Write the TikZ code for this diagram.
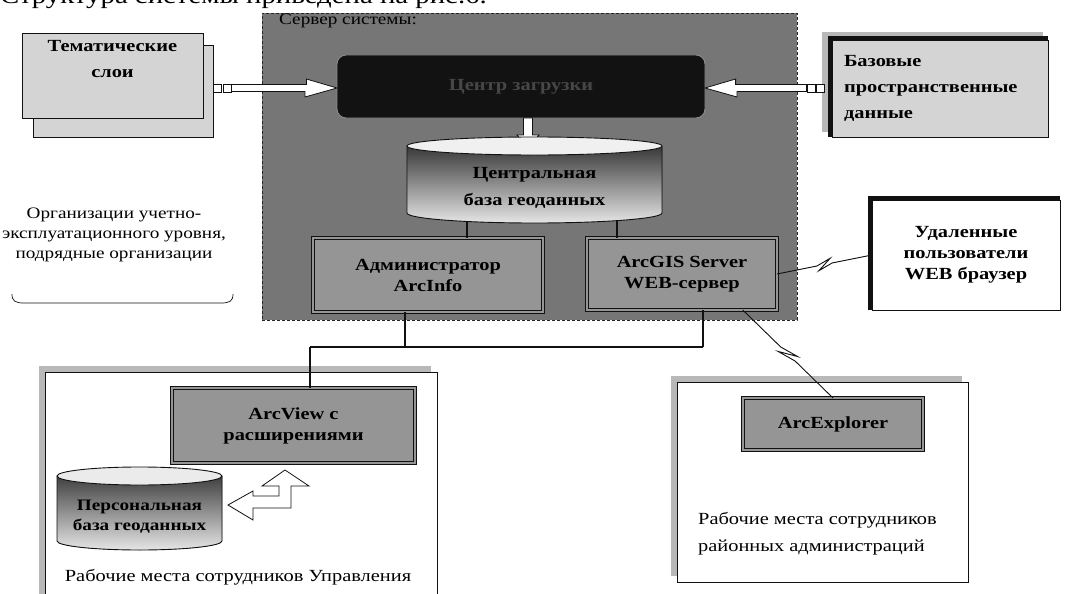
\documentclass[tikz,border=0pt]{standalone}
\usepackage{fontspec}
\setmainfont{Liberation Serif}[FakeStretch=1.2]
\usetikzlibrary{arrows.meta,positioning,calc}
\definecolor{Ink}{HTML}{111111}
\definecolor{ServerGray}{HTML}{767676}
\definecolor{PanelGray}{HTML}{959595}
\definecolor{PaleGray}{HTML}{D4D4D4}
\definecolor{NightBox}{HTML}{121212}
\definecolor{ShadeGray}{HTML}{B8B8B8}

\tikzset{
  plainbox/.style={draw=Ink, line width=0.9pt, inner sep=0pt, outer sep=0pt, anchor=north west},
  layerbox/.style={plainbox, fill=PaleGray, font=\fontsize{17}{26}\selectfont\bfseries, align=center},
  panelbox/.style={plainbox, fill=PanelGray, double=PanelGray, double distance=2.4pt, line width=1.1pt,
    font=\fontsize{17}{21}\selectfont\bfseries, align=center},
  boldtext/.style={font=\fontsize{17}{21}\selectfont\bfseries, align=center, inner sep=0pt},
  note/.style={font=\fontsize{17}{20}\selectfont, align=center, inner sep=0pt},
  hollow/.style={draw=Ink, fill=white, line width=0.8pt, line join=miter},
  port/.style={draw=Ink, fill=white, line width=0.7pt, minimum size=8pt, inner sep=0pt},
  bus/.style={draw=Ink, line width=1.6pt},
  zap/.style={draw=Ink, line width=0.9pt},
}

\begin{document}
\begin{tikzpicture}[x=1pt,y=-1pt]
\useasboundingbox (0,0) rectangle (1071,594);

\node[anchor=base west, font=\fontsize{24}{28}\selectfont, inner sep=0pt] (maincaption) at (0,4) {Структура системы приведена на рис.6.};

% server
\node[plainbox, fill=ServerGray, draw=black!85, dash pattern=on 3pt off 2pt, minimum width=535, minimum height=307] (server) at (262,13) {};
\node[anchor=west, font=\fontsize{16}{18}\selectfont, inner sep=0pt] (servertitle) at (279,21) {Сервер системы:};
\node[plainbox, fill=NightBox, draw=black!45, rounded corners=9pt, minimum width=368, minimum height=63,
  text=black!72, font=\fontsize{17}{21}\selectfont\bfseries] (loader) at (337,55) {Центр загрузки};

% sources
\node[layerbox, minimum width=180, minimum height=92] (themeback) at (33,45) {};
\node[layerbox, minimum width=181, minimum height=85] (theme) at (22,33) {Тематические\\слои\\[8pt]};
\node[port, anchor=west] (themeport) at (213,88) {};
\node[port, right=1pt of themeport] (themeport2) {};
\draw[hollow] (themeport2.east) ++(0,-3.5) -- ++(75,0) -- ++(0,-5.5) -- (loader.west |- themeport2.east)
  -- ++(-32,9) -- ++(0,-5.5) -- ($(themeport2.east)+(0,3.5)$) -- cycle;

\node[plainbox, fill=ShadeGray, draw=none, minimum width=221, minimum height=100] (baseback) at (822,32) {};
\node[plainbox, fill=PaleGray, minimum width=216, minimum height=97, text width=192, inner xsep=12pt, align=left,
  font=\fontsize{17}{26}\selectfont\bfseries] (basedata) at (832,40) {Базовые\\пространственные\\данные};
\draw[Ink, line width=4pt] ([xshift=-2pt]basedata.south west) -- ([xshift=-2pt,yshift=2pt]basedata.north west)
  -- ([yshift=2pt]basedata.north east);
\node[port, anchor=east] (baseport) at (825,88) {};
\node[port, left=1pt of baseport] (baseport2) {};
\draw[hollow] (baseport2.west) ++(0,-3.5) -- ++(-71,0) -- ++(0,-5.5) -- (loader.east |- baseport2.west)
  -- ++(32,9) -- ++(0,-5.5) -- ($(baseport2.west)+(0,3.5)$) -- cycle;

\draw[hollow] ([xshift=2.5pt]loader.south) -- ++(0,17) -- ++(-6.5,0) -- ++(11,13) -- ++(11,-13)
  -- ++(-6.5,0) -- ([xshift=11.5pt]loader.south) -- cycle;

% central database
\fill[top color=black!78, bottom color=black!10] (407,146) -- (407,213) arc[start angle=180, end angle=0, x radius=127.5, y radius=10] -- (662,146) -- cycle;
\draw[Ink, line width=0.9pt] (407,146) -- (407,213) arc[start angle=180, end angle=0, x radius=127.5, y radius=10] -- (662,146);
\filldraw[fill=black!6, draw=Ink, line width=0.9pt] (534.5,146) ellipse [x radius=127.5, y radius=9];
\node[boldtext, font=\fontsize{17}{27}\selectfont\bfseries] (centraldb) at (534.5,188) {Центральная\\база геоданных};
\coordinate (cdbL) at (467,221);
\coordinate (cdbR) at (617,221);

\node[panelbox, minimum width=230, minimum height=74] (admin) at (313,238) {Администратор\\ArcInfo};
\node[panelbox, minimum width=190, minimum height=72] (arcgis) at (587,238) {ArcGIS Server\\WEB-сервер};
\draw[bus, line width=1.4pt] (cdbL) -- (cdbL |- admin.north);
\draw[bus, line width=1.4pt] (cdbR) -- (cdbR |- arcgis.north);

% remote users
\node[plainbox, fill=white, minimum width=188, minimum height=110, font=\fontsize{17}{21}\selectfont\bfseries, align=center] (remote) at (872,200) {Удаленные\\пользователи\\WEB браузер};
\draw[Ink, line width=4pt] ([xshift=-2pt]remote.south west) -- ([xshift=-2pt,yshift=2pt]remote.north west)
  -- ([yshift=2pt]remote.north east);
\draw[zap] (arcgis.east) -- ($(arcgis.east)!0.42!(remote.west)$)
  -- ($(arcgis.east)!0.57!(remote.west)!5pt!90:(remote.west)$)
  -- ($(arcgis.east)!0.43!(remote.west)!5pt!-90:(remote.west)$)
  -- ($(arcgis.east)!0.58!(remote.west)$) -- (remote.west);

\node[note, font=\fontsize{16}{20}\selectfont] (orgs) at (114,235) {Организации учетно-\\эксплуатационного уровня,\\подрядные организации};
\draw[Ink, line width=0.7pt] (12,294) .. controls (12,301) and (15,303) .. (24,303) -- (221,303)
  .. controls (230,303) and (233,301) .. (233,294);

% workplaces
\fill[ShadeGray] (39,366) rectangle (431,600);
\node[plainbox, fill=white, minimum width=392, minimum height=250] (mainoffice) at (45,372) {};
\node[panelbox, minimum width=243, minimum height=75] (arcview) at (172,388) {ArcView с\\расширениями};
\fill[top color=black!75, bottom color=black!10] (57,476) -- (57,541) arc[start angle=180, end angle=0, x radius=82.5, y radius=9] -- (222,476) -- cycle;
\draw[Ink, line width=0.9pt] (57,476) -- (57,541) arc[start angle=180, end angle=0, x radius=82.5, y radius=9] -- (222,476);
\filldraw[fill=black!8, draw=Ink, line width=0.9pt] (139.5,476) ellipse [x radius=82.5, y radius=9];
\node[boldtext, font=\fontsize{16}{20}\selectfont\bfseries] (persdb) at (139.5,517) {Персональная\\база геоданных};
\draw[hollow] (285,470) -- (309,486) -- (291,486) -- (291,508) -- (253,508) -- (253,520) -- (228,505)
  -- (253,491) -- (253,496) -- (279,496) -- (279,486) -- (262,486) -- cycle;
\node[note] (officecap) at (238,577) {Рабочие места сотрудников Управления};

\fill[ShadeGray] (671,376) rectangle (962,576);
\node[plainbox, fill=white, minimum width=291, minimum height=200] (district) at (677,382) {};
\node[panelbox, minimum width=180, minimum height=52] (arcexp) at (743,398) {ArcExplorer};
\node[note, font=\fontsize{17}{27}\selectfont, anchor=north west, align=left] (districtcap) at (698,512) {Рабочие места сотрудников\\районных администраций};

% local network
\coordinate (busL) at (310,347);
\coordinate (busM) at (405,347);
\coordinate (busR) at (703,347);
\draw[bus] (busM) -- (busM |- admin.south);
\draw[bus] (busL) -- (busR);
\draw[bus] (busR) -- (busR |- arcgis.south);
\draw[bus] (busL) -- (busL |- arcview.north);

\coordinate (gisport) at ($(arcgis.south)!0.64!(arcgis.south east)$);
\draw[zap] (gisport) -- ($(gisport)!0.42!(arcexp.north)$)
  -- ($(gisport)!0.57!(arcexp.north)!5pt!90:(arcexp.north)$)
  -- ($(gisport)!0.43!(arcexp.north)!5pt!-90:(arcexp.north)$)
  -- ($(gisport)!0.58!(arcexp.north)$) -- (arcexp.north);
\end{tikzpicture}
\end{document}
